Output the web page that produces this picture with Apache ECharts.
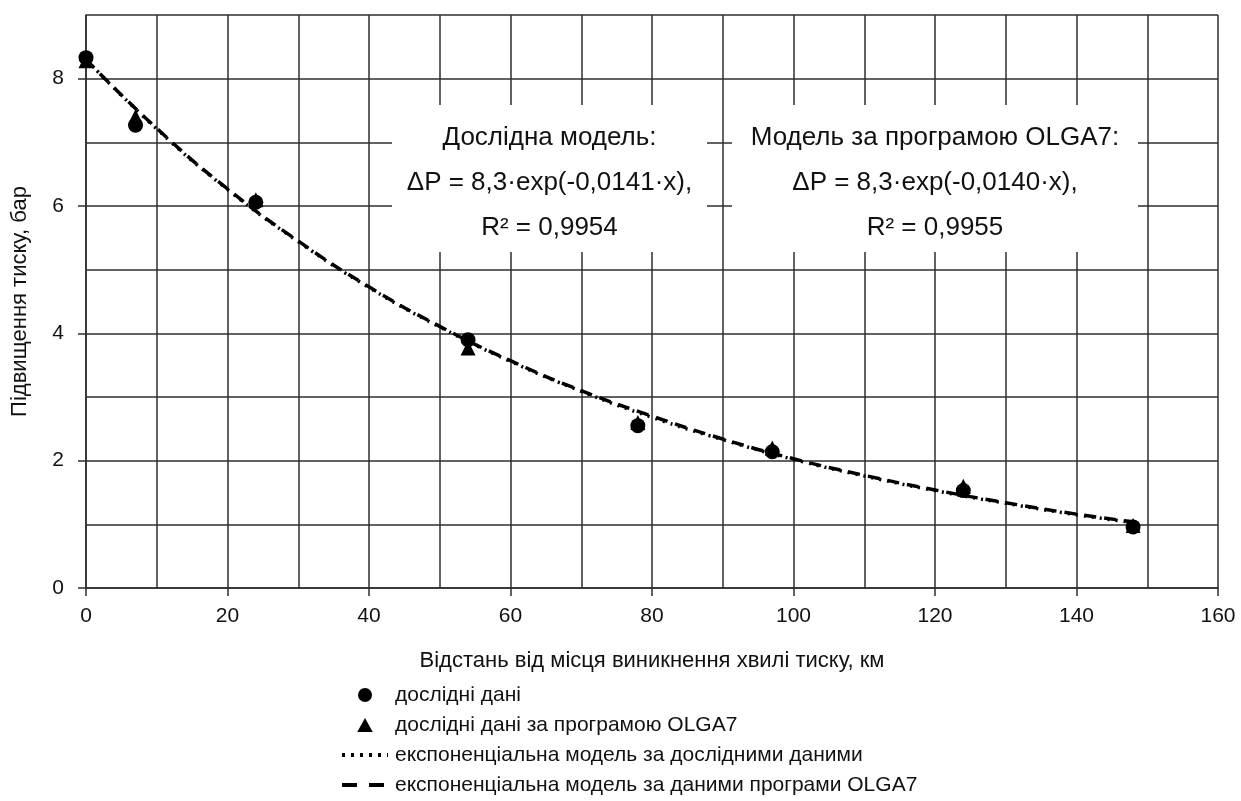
<!DOCTYPE html>
<html>
<head>
<meta charset="utf-8">
<script src="https://cdn.jsdelivr.net/npm/echarts@6/dist/echarts.min.js"></script>
<style>html,body{margin:0;padding:0;background:#fff;}#c{width:1241px;height:801px;}</style>
</head>
<body>
<div id="c"></div>
<script>
// Data
var pointX = [0, 7, 24, 54, 78, 97, 124, 148];
var expData = [8.33, 7.27, 6.06, 3.90, 2.55, 2.14, 1.53, 0.96];
var olgaData = [8.28, 7.40, 6.10, 3.77, 2.60, 2.20, 1.60, 0.98];
var modelX = [0, 10, 20, 30, 40, 50, 60, 70, 80, 90, 100, 110, 120, 130, 140, 148];
var expModel = [8.30, 7.21, 6.26, 5.44, 4.72, 4.10, 3.56, 3.09, 2.68, 2.33, 2.02, 1.76, 1.53, 1.33, 1.15, 1.03];
var olgaModel = [8.30, 7.22, 6.27, 5.45, 4.73, 4.11, 3.57, 3.10, 2.70, 2.34, 2.03, 1.77, 1.54, 1.34, 1.16, 1.04];
var xTicks = [0, 20, 40, 60, 80, 100, 120, 140, 160];
var yTicks = [0, 2, 4, 6, 8];
var seriesNames = ['дослідні дані', 'дослідні дані за програмою OLGA7',
  'експоненціальна модель за дослідними даними', 'експоненціальна модель за даними програми OLGA7'];
var box1Lines = ['Дослідна модель:', 'ΔP = 8,3·exp(-0,0141·x),', 'R² = 0,9954'];
var box2Lines = ['Модель за програмою OLGA7:', 'ΔP = 8,3·exp(-0,0140·x),', 'R² = 0,9955'];
var xName = 'Відстань від місця виникнення хвилі тиску, км';
var yName = 'Підвищення тиску, бар';

function zip(a, b) { return a.map(function (v, i) { return [v, b[i]]; }); }

var FONT = 'Liberation Sans, Arial, sans-serif';
var GRID = '#2e2e2e';
var LW = 1.5;
var DOT = [2, 6];
var DASH = [12, 8];

function boxGraphic(x, y, w, h, lines) {
  var children = [{ type: 'rect', z: 10, shape: { x: 0, y: 0, width: w, height: h }, style: { fill: '#fff' } }];
  lines.forEach(function (t, i) {
    children.push({ type: 'text', z: 11, x: w / 2, y: 33 + i * 45,
      style: { text: t, fill: '#111', font: '26px ' + FONT, textAlign: 'center', textVerticalAlign: 'middle' } });
  });
  return { type: 'group', x: x, y: y, z: 10, children: children };
}

var chart = echarts.init(document.getElementById('c'));
chart.setOption({
  animation: false,
  backgroundColor: '#fff',
  textStyle: { fontFamily: FONT },
  grid: { left: 86, right: 23, top: 15, bottom: 213, show: false, outerBoundsMode: 'none', containLabel: false },
  xAxis: [{
    type: 'value', min: 0, max: 160, interval: 10, position: 'bottom',
    name: xName, nameLocation: 'middle', nameGap: 62, nameMoveOverlap: false,
    nameTextStyle: { fontSize: 22, color: '#111', fontFamily: FONT },
    axisLine: { show: true, lineStyle: { color: GRID, width: LW } },
    axisTick: { show: false },
    axisLabel: { fontSize: 21, color: '#111', margin: 18, fontFamily: FONT,
      formatter: function (v) { return xTicks.indexOf(v) >= 0 ? String(v) : ''; } },
    splitLine: { show: true, lineStyle: { color: GRID, width: LW } }
  }, {
    type: 'value', min: 0, max: 160, interval: 20, position: 'bottom', offset: 0,
    axisLine: { show: false },
    axisTick: { show: true, length: 8, customValues: xTicks, lineStyle: { color: GRID, width: LW } },
    axisLabel: { show: false },
    splitLine: { show: false }
  }],
  yAxis: [{
    type: 'value', min: 0, max: 9, interval: 1, position: 'left',
    name: yName, nameLocation: 'middle', nameGap: 55, nameRotate: 90, nameMoveOverlap: false,
    nameTextStyle: { fontSize: 22, color: '#111', fontFamily: FONT },
    axisLine: { show: true, lineStyle: { color: GRID, width: LW } },
    axisTick: { show: false },
    axisLabel: { fontSize: 21, color: '#111', margin: 22, fontFamily: FONT,
      formatter: function (v) { return yTicks.indexOf(v) >= 0 ? String(v) : ''; } },
    splitLine: { show: true, lineStyle: { color: GRID, width: LW } }
  }, {
    type: 'value', min: 0, max: 9, interval: 1, position: 'left', offset: 0,
    axisLine: { show: false },
    axisTick: { show: true, length: 8, customValues: yTicks, lineStyle: { color: GRID, width: LW } },
    axisLabel: { show: false },
    splitLine: { show: false }
  }],
  legend: {
    orient: 'vertical', left: 340, top: 684, height: 117, itemGap: 8, itemWidth: 46, itemHeight: 14,
    padding: 0,
    textStyle: { fontSize: 21, lineHeight: 22, color: '#111', fontFamily: FONT, padding: [0, 0, 0, 2] },
    data: [
      { name: seriesNames[0], icon: 'circle' },
      { name: seriesNames[1], icon: 'path://M5,0L10,9L0,9Z' },
      { name: seriesNames[2], itemStyle: { opacity: 0 }, lineStyle: { width: 4, type: [3, 6], color: '#000' } },
      { name: seriesNames[3], itemStyle: { opacity: 0 }, lineStyle: { width: 4, type: [15, 12], color: '#000' } }
    ]
  },
  series: [
    { name: seriesNames[2], type: 'line', data: zip(modelX, expModel), smooth: true, symbol: 'none',
      lineStyle: { color: '#000', width: 3.5, type: DOT }, itemStyle: { color: '#000' }, z: 3 },
    { name: seriesNames[3], type: 'line', data: zip(modelX, olgaModel), smooth: true, symbol: 'none',
      lineStyle: { color: '#000', width: 3.5, type: DASH }, itemStyle: { color: '#000' }, z: 3 },
    { name: seriesNames[0], type: 'scatter', data: zip(pointX, expData), symbol: 'circle', symbolSize: 15,
      itemStyle: { color: '#000', opacity: 1 }, z: 4 },
    { name: seriesNames[1], type: 'scatter', data: zip(pointX, olgaData), symbol: 'triangle', symbolSize: 15,
      itemStyle: { color: '#000', opacity: 1 }, z: 4 }
  ],
  graphic: [
    boxGraphic(392, 105, 315, 147, box1Lines),
    boxGraphic(732, 105, 406, 147, box2Lines)
  ]
});
</script>
</body>
</html>
